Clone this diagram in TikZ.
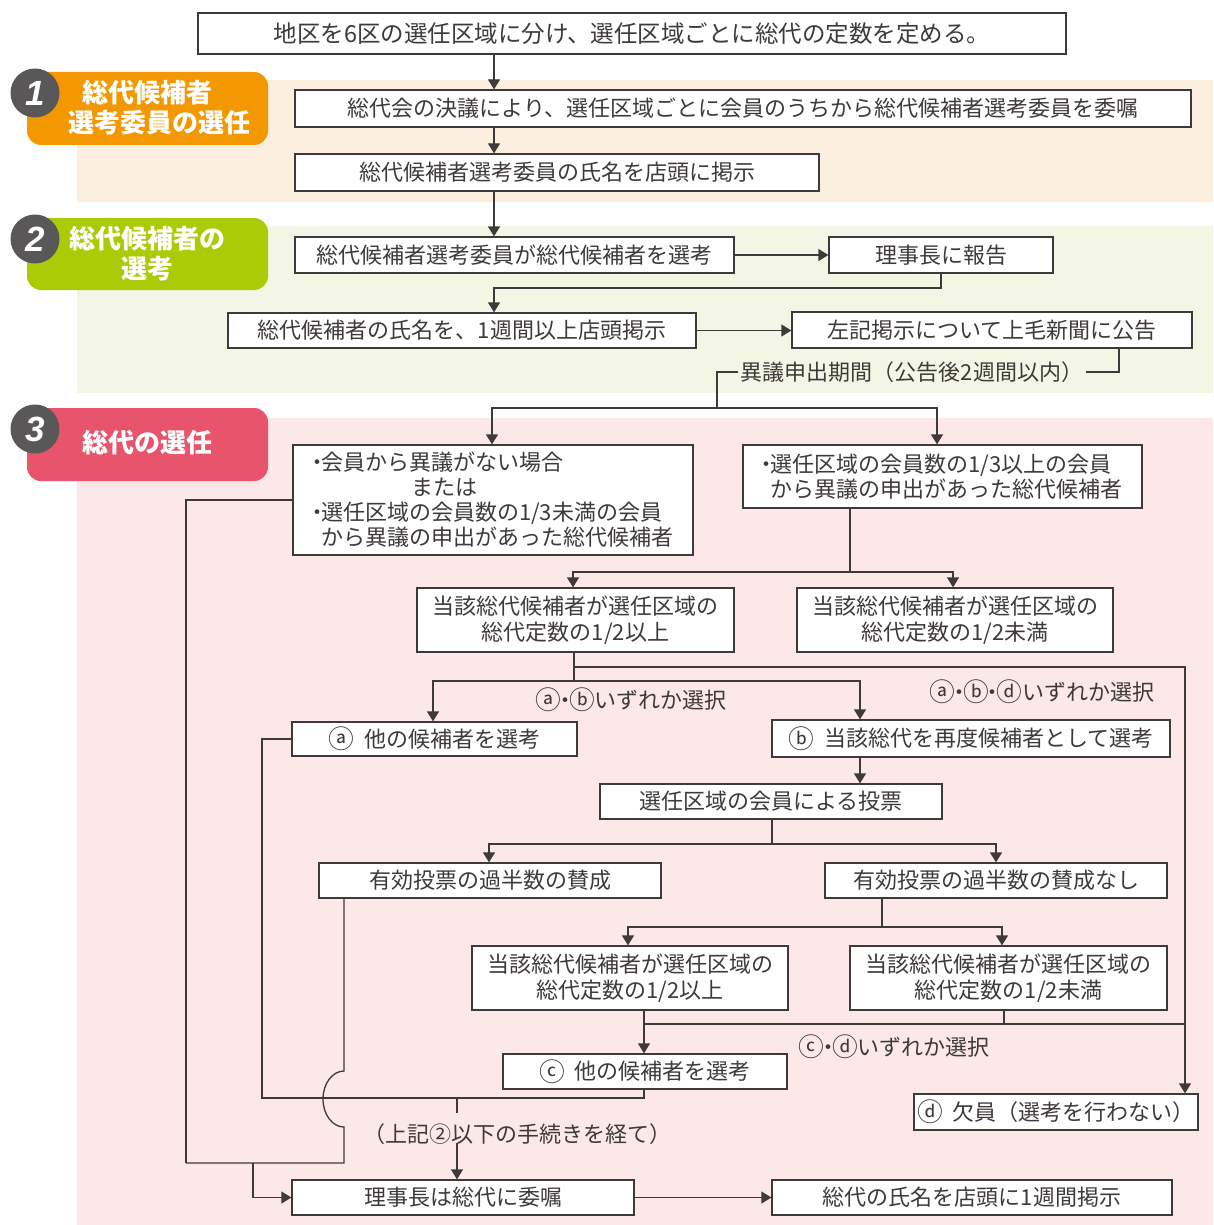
\documentclass[tikz,border=0pt]{standalone}
\usepackage{fontspec}
\usepackage{graphicx}
\setmainfont{Noto Sans CJK JP}
\newfontfamily\numfont{Liberation Sans}
\usetikzlibrary{arrows.meta}
\definecolor{ink}{HTML}{3E3A39}
\definecolor{bandA}{HTML}{FDEFDF}
\definecolor{bandB}{HTML}{F3F6E4}
\definecolor{bandC}{HTML}{FCE8E8}
\definecolor{badgeA}{HTML}{F39800}
\definecolor{badgeB}{HTML}{AACB05}
\definecolor{badgeC}{HTML}{E8546C}
\definecolor{numgray}{HTML}{595757}
\newcommand\cir[1]{\raisebox{-0.06em}{\scalebox{1.17}{#1}}}
\begin{document}
\begin{tikzpicture}[x=1pt,y=-1pt,line width=1.3pt,color=ink,
  box/.style={draw=ink,fill=white,inner sep=0pt,align=center,text=ink,font=\fontsize{22pt}{26pt}\selectfont},
  sz/.style 2 args={minimum width=#1pt,minimum height=#2pt},
  lab/.style={inner sep=2pt,text=ink,font=\fontsize{22pt}{26pt}\selectfont},
  arr/.style={-{Triangle[width=12pt,length=10pt]}},
  btext/.style={text=white,inner sep=0pt,align=center,font=\fontsize{26pt}{30pt}\selectfont\bfseries},
  num/.style={circle,fill=numgray,minimum size=49pt,inner sep=0pt,text=white,font=\numfont\fontsize{35pt}{35pt}\selectfont\bfseries\itshape}]
\useasboundingbox (0,0) rectangle (1213,1225);
\fill[white] (0,0) rectangle (1213,1225);
% bands
\fill[bandA] (77,80) rectangle (1213,202);
\fill[bandB] (77,226) rectangle (1213,393);
\fill[bandC] (77,418) rectangle (1213,1225);
% badges
\fill[badgeA,rounded corners=14pt] (27,72) rectangle (268,145);
\fill[badgeB,rounded corners=14pt] (27,218) rectangle (268,290);
\fill[badgeC,rounded corners=14pt] (27,408) rectangle (268,481);
\node[num] (n1) at (35,93) {1};
\node[num] (n2) at (35,239) {2};
\node[num] (n3) at (35,429) {3};
\node[btext,align=left,anchor=west] (t1) at (68,108) {\hspace*{14pt}総代候補者\\選考委員の選任};
\node[btext] (t2) at (147,253.5) {総代候補者の\\選考};
\node[btext] (t3) at (147,443) {総代の選任};
% boxes
\node[box,sz={868}{41},font=\fontsize{23.5pt}{27pt}\selectfont] (top) at (632,33.5) {地区を6区の選任区域に分け、選任区域ごとに総代の定数を定める。};
\node[box,sz={896}{37}] (b1a) at (743,108.5) {総代会の決議により、選任区域ごとに会員のうちから総代候補者選考委員を委嘱};
\node[box,sz={524}{37}] (b1b) at (557,172.5) {総代候補者選考委員の氏名を店頭に掲示};
\node[box,sz={439}{36}] (b2a) at (514.5,255) {総代候補者選考委員が総代候補者を選考};
\node[box,sz={224}{36}] (b2b) at (941,255) {理事長に報告};
\node[box,sz={468}{35}] (b2c) at (462,330.5) {総代候補者の氏名を、1週間以上店頭掲示};
\node[box,sz={400}{36}] (b2d) at (992,330) {左記掲示について上毛新聞に公告};
\node[box,sz={400}{110},align=left,font=\fontsize{22pt}{25pt}\selectfont] (b3L) at (493,500) {\makebox[8pt]{・}会員から異議がない場合\\\hspace*{98pt}または\\\makebox[8pt]{・}選任区域の会員数の1/3未満の会員\\\hspace*{8pt}から異議の申出があった総代候補者};
\node[box,sz={399}{63},align=left,font=\fontsize{22pt}{25pt}\selectfont] (b3R) at (942.5,476.5) {\makebox[8pt]{・}選任区域の会員数の1/3以上の会員\\\hspace*{8pt}から異議の申出があった総代候補者};
\node[box,sz={317}{64}] (b3LL) at (575.5,620) {当該総代候補者が選任区域の\\総代定数の1/2以上};
\node[box,sz={316}{64}] (b3LR) at (955,620) {当該総代候補者が選任区域の\\総代定数の1/2未満};
\node[box,sz={285}{34}] (ba) at (434.5,739) {\cir{ⓐ}\hspace{10pt}他の候補者を選考};
\node[box,sz={398}{37}] (bb) at (971,738.5) {\cir{ⓑ}\hspace{10pt}当該総代を再度候補者として選考};
\node[box,sz={342}{35}] (vote) at (771,801.5) {選任区域の会員による投票};
\node[box,sz={342}{35}] (yes) at (490,880.5) {有効投票の過半数の賛成};
\node[box,sz={342}{35}] (no) at (996,880.5) {有効投票の過半数の賛成なし};
\node[box,sz={316}{64}] (low1) at (630,978) {当該総代候補者が選任区域の\\総代定数の1/2以上};
\node[box,sz={317}{64}] (low2) at (1008.5,978) {当該総代候補者が選任区域の\\総代定数の1/2未満};
\node[box,sz={284}{35}] (bc) at (645,1071.5) {\cir{ⓒ}\hspace{10pt}他の候補者を選考};
\node[box,sz={284}{36}] (bd) at (1056,1112) {\cir{ⓓ}\hspace{10pt}欠員（選考を行わない）};
\node[box,sz={342}{35}] (bi) at (463,1197.5) {理事長は総代に委嘱};
\node[box,sz={400}{35}] (bk) at (972,1197.5) {総代の氏名を店頭に1週間掲示};
% labels
\node[lab] (obj) at (912,372) {異議申出期間（公告後2週間以内）};
\node[lab] (lab1) at (631,700) {\cir{ⓐ}\makebox[8pt]{・}\cir{ⓑ}いずれか選択};
\node[lab] (lab2) at (1042,692) {\cir{ⓐ}\makebox[8pt]{・}\cir{ⓑ}\makebox[8pt]{・}\cir{ⓓ}いずれか選択};
\node[lab] (lab3) at (894,1047) {\cir{ⓒ}\makebox[8pt]{・}\cir{ⓓ}いずれか選択};
\node[lab] (note) at (517,1134) {（上記②以下の手続きを経て）};
% coordinates
\coordinate (c1) at (494,0);
\coordinate (k1) at (494,288);
\coordinate (k2) at (1119,372);
\coordinate (k3) at (717,408);
\coordinate (k4) at (492,408);
\coordinate (k5) at (937,408);
\coordinate (k6) at (186,1163);
\coordinate (k7) at (850,572);
\coordinate (k8) at (573,572);
\coordinate (k9) at (953,572);
\coordinate (m1) at (574,667);
\coordinate (m2) at (574,681);
\coordinate (m3) at (1185,667);
\coordinate (m4) at (433,681);
\coordinate (m5) at (860,681);
\coordinate (p1) at (772,844);
\coordinate (p2) at (489,844);
\coordinate (p3) at (996,844);
\coordinate (q1) at (882,927);
\coordinate (q2) at (628,927);
\coordinate (q3) at (1002,927);
\coordinate (r1) at (1004,1024);
\coordinate (r2) at (644,1024);
\coordinate (r3) at (1185,1024);
\coordinate (s1) at (644,1098);
\coordinate (s2) at (262,1098);
\coordinate (s3) at (457,1098);
\coordinate (v1) at (457,1113);
\coordinate (v2) at (457,1143);
\coordinate (u1) at (344,1071);
\coordinate (u3) at (344,1163);
\coordinate (u4) at (253,1163);
% connectors
\draw[arr] (top.south -| c1) -- (b1a.north -| c1);
\draw[arr] (b1a.south -| c1) -- (b1b.north -| c1);
\draw[arr] (b1b.south -| c1) -- (b2a.north -| c1);
\draw[arr] (b2a.east) -- (b2b.west);
\draw[arr] (b2b.south) |- (k1) -- (b2c.north -| k1);
\draw[arr] (b2c.east) -- (b2c.east -| b2d.west);
\draw (b2d.south -| k2) -- (k2) -- (obj.east);
\draw (obj.west) -| (k3);
\draw[arr] (k3) -- (k4) -- (b3L.north -| k4);
\draw[arr] (k3) -- (k5) -- (b3R.north -| k5);
\draw (b3L.west) -| (k6);
\draw (b3R.south -| k7) -- (k7);
\draw[arr] (k7) -- (k8) -- (b3LL.north -| k8);
\draw[arr] (k7) -- (k9) -- (b3LR.north -| k9);
\draw (b3LL.south -| m1) -- (m2);
\draw[arr] (m1) -- (m3) -- (bd.north -| m3);
\draw[arr] (m2) -- (m4) -- (ba.north -| m4);
\draw[arr] (m2) -- (m5) -- (bb.north -| m5);
\draw[arr] (bb.south -| m5) -- (vote.north -| m5);
\draw (vote.south -| p1) -- (p1);
\draw[arr] (p1) -- (p2) -- (yes.north -| p2);
\draw[arr] (p1) -- (p3) -- (no.north -| p3);
\draw (no.south -| q1) -- (q1);
\draw[arr] (q1) -- (q2) -- (low1.north -| q2);
\draw[arr] (q1) -- (q3) -- (low2.north -| q3);
\draw (low2.south -| r1) -- (r1) -- (r3);
\draw (r1) -- (r2);
\draw[arr] (low1.south -| r2) -- (bc.north -| r2);
\draw (bc.south -| s1) -- (s1) -- (s2) |- (ba.west);
\draw (s3) -- (v1);
\draw[arr] (v2) -- (bi.north -| v2);
\draw (yes.south -| u1) -- (u1) arc[start angle=270,end angle=90,x radius=21,y radius=28] -- (u3) -- (k6);
\draw[arr] (u4) |- (bi.west);
\draw[arr] (bi.east) -- (bk.west);
\end{tikzpicture}
\end{document}
